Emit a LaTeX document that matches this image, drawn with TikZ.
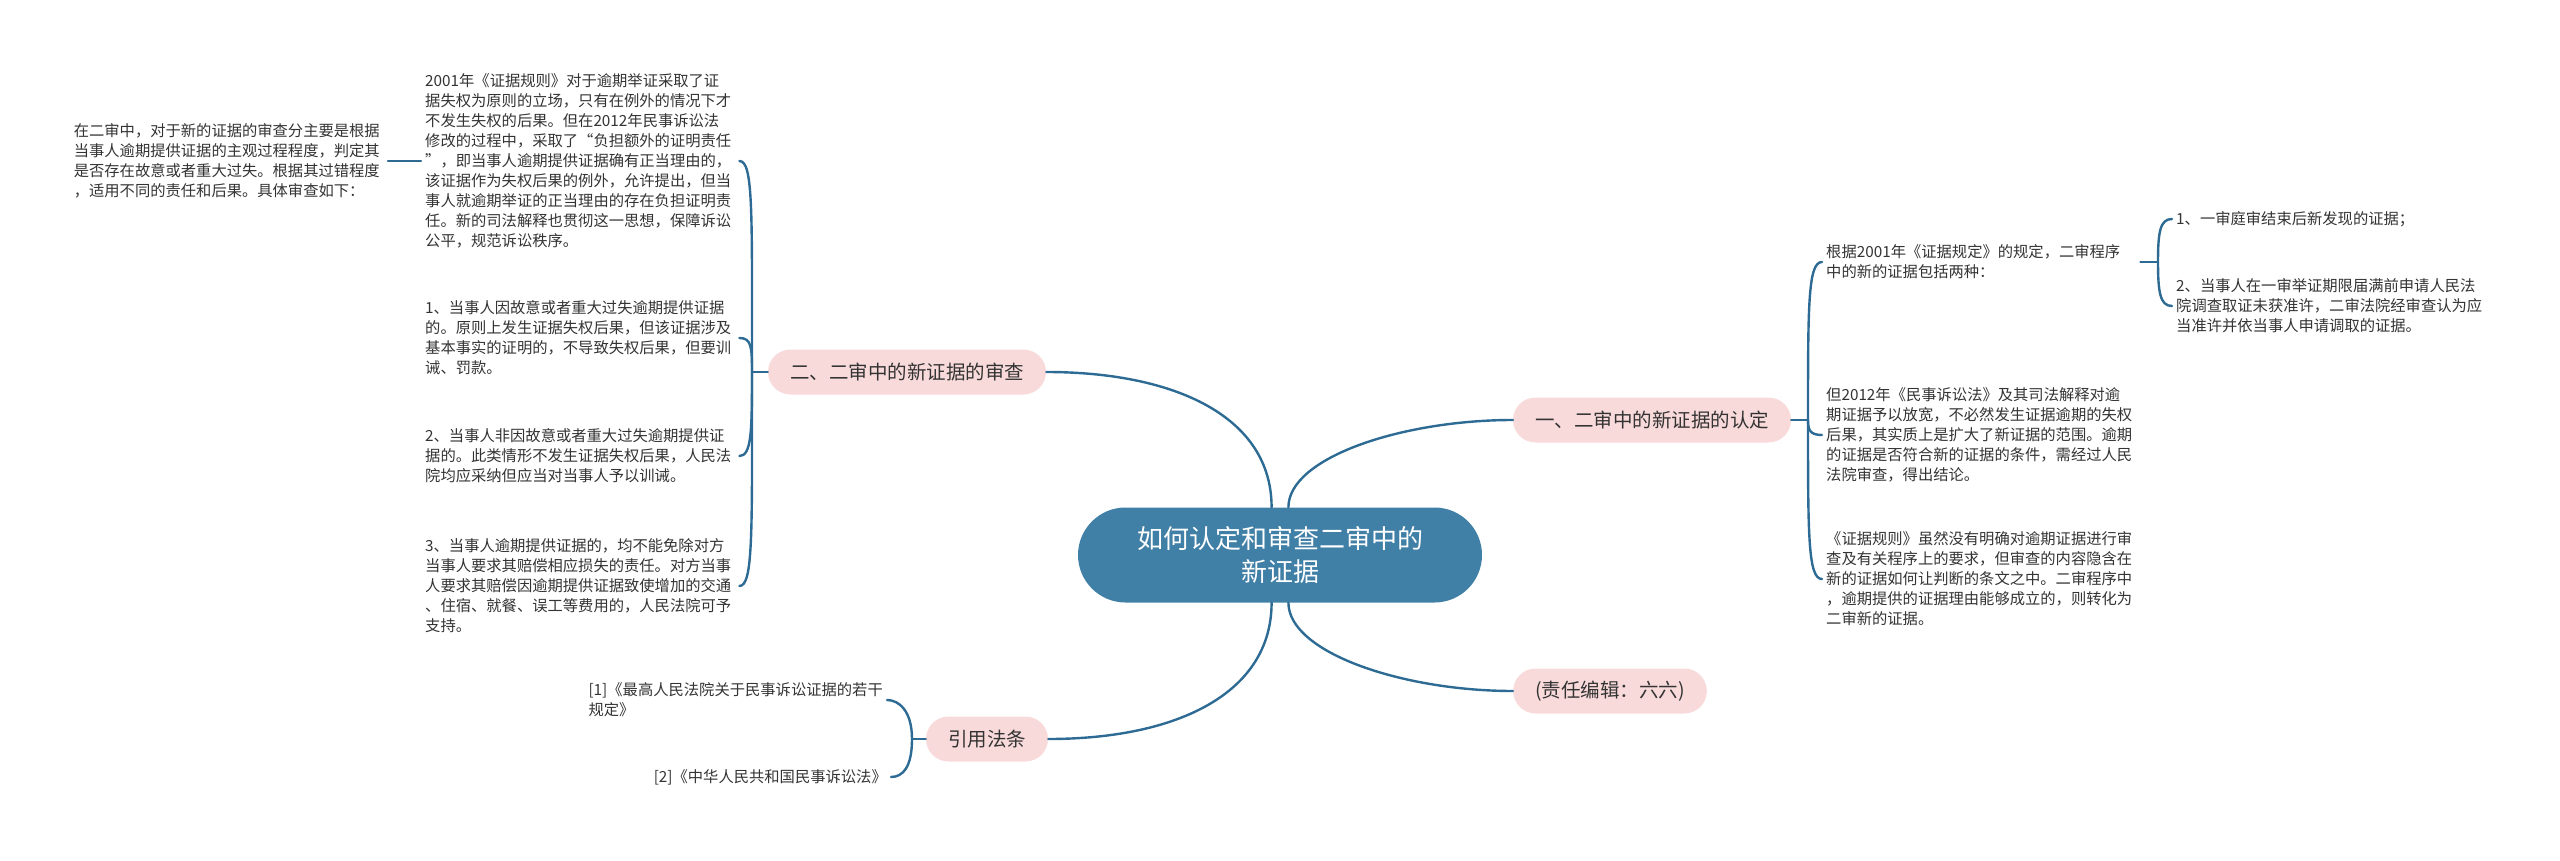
\documentclass[tikz,border=0pt]{standalone}
\usepackage{fontspec}
\setmainfont{Noto Sans CJK SC}
\usepackage{tikz}

\definecolor{linea}{HTML}{2D6B94}
\definecolor{central}{HTML}{407FA6}
\definecolor{rosa}{HTML}{F9DADA}
\definecolor{texto}{HTML}{333333}

\tikzset{
  rama/.style={fill=rosa, rounded corners=22.5pt, minimum height=45pt, inner xsep=22pt, inner ysep=0pt, text=texto, font=\fontsize{19.5}{24}\selectfont},
  hoja/.style={inner sep=4pt, text=texto, align=left, font=\fontsize{15.3}{20}\selectfont},
  enlace/.style={draw=linea, line width=2.4pt, line cap=round}
}

\begin{document}
\begin{tikzpicture}[x=1pt, y=-1pt]
  \useasboundingbox (0,0) rectangle (2560,861);

  % Nodo central
  \node[fill=central, rounded corners=47.5pt, minimum width=404pt, minimum height=95pt, text=white, align=center, font=\fontsize{26}{33}\selectfont] (raiz) at (1280,555) {如何认定和审查二审中的\\新证据};

  % Ramas
  \node[rama] (shencha) at (907,372) {二、二审中的新证据的审查};
  \node[rama] (rending) at (1652,420) {一、二审中的新证据的认定};
  \node[rama] (yinyong) at (987,739) {引用法条};
  \node[rama] (bianji) at (1610,691) {(责任编辑：六六)};

  % Enlaces centrales
  \draw[enlace] (raiz.100) .. controls +(0,-90) and +(130,0) .. (shencha.east);
  \draw[enlace] (raiz.80) .. controls +(0,-50) and +(-110,0) .. (rending.west);
  \draw[enlace] (raiz.260) .. controls +(0,90) and +(130,0) .. (yinyong.east);
  \draw[enlace] (raiz.280) .. controls +(0,50) and +(-110,0) .. (bianji.west);

  % Hojas de la rama izquierda
  \node[hoja, text width=310pt, anchor=west] (s0) at (421,161) {2001年《证据规则》对于逾期举证采取了证\\据失权为原则的立场，只有在例外的情况下才\\不发生失权的后果。但在2012年民事诉讼法\\修改的过程中，采取了“负担额外的证明责任\\”，即当事人逾期提供证据确有正当理由的，\\该证据作为失权后果的例外，允许提出，但当\\事人就逾期举证的正当理由的存在负担证明责\\任。新的司法解释也贯彻这一思想，保障诉讼\\公平，规范诉讼秩序。};
  \node[hoja, text width=310pt, anchor=east] (s00) at (388,161) {在二审中，对于新的证据的审查分主要是根据\\当事人逾期提供证据的主观过程程度，判定其\\是否存在故意或者重大过失。根据其过错程度\\，适用不同的责任和后果。具体审查如下：};
  \node[hoja, text width=310pt, anchor=west] (s1) at (421,338) {1、当事人因故意或者重大过失逾期提供证据\\的。原则上发生证据失权后果，但该证据涉及\\基本事实的证明的，不导致失权后果，但要训\\诫、罚款。};
  \node[hoja, text width=310pt, anchor=west] (s2) at (421,456) {2、当事人非因故意或者重大过失逾期提供证\\据的。此类情形不发生证据失权后果，人民法\\院均应采纳但应当对当事人予以训诫。};
  \node[hoja, text width=310pt, anchor=west] (s3) at (421,586) {3、当事人逾期提供证据的，均不能免除对方\\当事人要求其赔偿相应损失的责任。对方当事\\人要求其赔偿因逾期提供证据致使增加的交通\\、住宿、就餐、误工等费用的，人民法院可予\\支持。};

  \coordinate (js) at (752,372);
  \draw[enlace] (shencha.west) -- (js);
  \draw[enlace] (js) .. controls +(0,-160) and +(14,0) .. (s0.east);
  \draw[enlace] (js) .. controls +(0,-25) and +(12,0) .. (s1.east);
  \draw[enlace] (js) .. controls +(0,60) and +(12,0) .. (s2.east);
  \draw[enlace] (js) .. controls +(0,160) and +(14,0) .. (s3.east);
  \draw[enlace] (s0.west) -- (s00.east);

  % Hojas de la rama derecha
  \node[hoja, text width=310pt, anchor=west] (r1) at (1822,262) {根据2001年《证据规定》的规定，二审程序\\中的新的证据包括两种：};
  \node[hoja, text width=310pt, anchor=west] (r2) at (1822,435) {但2012年《民事诉讼法》及其司法解释对逾\\期证据予以放宽，不必然发生证据逾期的失权\\后果，其实质上是扩大了新证据的范围。逾期\\的证据是否符合新的证据的条件，需经过人民\\法院审查，得出结论。};
  \node[hoja, text width=310pt, anchor=west] (r3) at (1822,579) {《证据规则》虽然没有明确对逾期证据进行审\\查及有关程序上的要求，但审查的内容隐含在\\新的证据如何让判断的条文之中。二审程序中\\，逾期提供的证据理由能够成立的，则转化为\\二审新的证据。};
  \node[hoja, text width=310pt, anchor=west] (r11) at (2172,219) {1、一审庭审结束后新发现的证据；};
  \node[hoja, text width=310pt, anchor=west] (r12) at (2172,306) {2、当事人在一审举证期限届满前申请人民法\\院调查取证未获准许，二审法院经审查认为应\\当准许并依当事人申请调取的证据。};

  \coordinate (jr) at (1808,420);
  \draw[enlace] (rending.east) -- (jr);
  \draw[enlace] (jr) .. controls +(0,-115) and +(-14,0) .. (r1.west);
  \draw[enlace] (jr) .. controls +(0,10) and +(-12,0) .. (r2.west);
  \draw[enlace] (jr) .. controls +(0,115) and +(-14,0) .. (r3.west);

  \coordinate (jr1) at (2158,262);
  \draw[enlace] (r1.east) -- (jr1);
  \draw[enlace] (jr1) .. controls +(0,-30) and +(-12,0) .. (r11.west);
  \draw[enlace] (jr1) .. controls +(0,30) and +(-12,0) .. (r12.west);

  % Referencias
  \node[hoja, anchor=east] (y1) at (887,700) {[1]《最高人民法院关于民事诉讼证据的若干\\规定》};
  \node[hoja, anchor=east] (y2) at (891,777) {[2]《中华人民共和国民事诉讼法》};

  \coordinate (jy) at (912,739);
  \draw[enlace] (yinyong.west) -- (jy);
  \draw[enlace] (jy) .. controls +(0,-28) and +(12,0) .. (y1.east);
  \draw[enlace] (jy) .. controls +(0,28) and +(12,0) .. (y2.east);
\end{tikzpicture}
\end{document}
